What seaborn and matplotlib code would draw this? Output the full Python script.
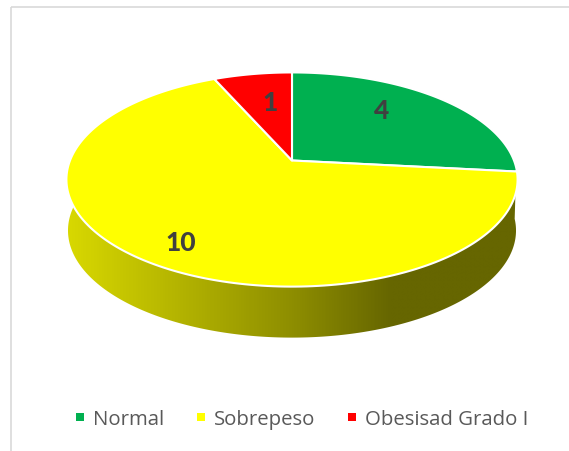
import numpy as np
import matplotlib
matplotlib.use("Agg")
import matplotlib.pyplot as plt
from matplotlib.lines import Line2D
from matplotlib.patches import Polygon, Rectangle
import seaborn as sns

categories = ["Normal", "Sobrepeso", "Obesisad Grado I"]
values = [4, 10, 1]
slice_colors = ["#00B050", "#FFFF00", "#FF0000"]
wall_stops = ["#D8D800", "#8E8E00", "#666600", "#666600"]

sns.set_theme(style="white")
plt.rcParams["font.family"] = ["Open Sans", "DejaVu Sans"]

fig = plt.figure(figsize=(5.69, 4.52), dpi=100)
ax = fig.add_axes([0, 0, 1, 1])

CX, CY, RX, PERSP, PY = 292.0, 161.5, 222.0, 0.1776, -75.03
DEPTH, BOTTOM_SCALE = 51.0, 0.993


def project(theta, r=1.0, drop=0.0, scale=1.0):
    x, y = r * np.sin(theta), r * np.cos(theta)
    w = 1 + PERSP * y
    return CX + scale * RX * x / w, (CY + PY * y) / w + drop


# Side wall, drawn as a gradient clipped to the visible rim
th = np.radians(np.linspace(94, 272, 240))
tx, ty = project(th)
bx, by = project(th, drop=DEPTH, scale=BOTTOM_SCALE)
outline = np.column_stack([np.r_[tx, bx[::-1]], np.r_[ty, by[::-1]]])
xs = np.linspace(0, 1, 500)
grad = np.interp(xs, [0, 0.5, 0.72, 1], [0, 1 / 3, 2 / 3, 1])[None, :]
cmap = sns.blend_palette(wall_stops, as_cmap=True)
im = ax.imshow(grad, cmap=cmap, vmin=0, vmax=1, extent=(67, 517, 345, 170),
               aspect="auto", interpolation="bilinear", zorder=1)
im.set_clip_path(Polygon(outline, closed=True, transform=ax.transData))

# Top face, slices taken from the values
bounds = np.cumsum([0] + values) / sum(values) * 2 * np.pi
palette = sns.color_palette(slice_colors)
for a0, a1, col in zip(bounds[:-1], bounds[1:], palette):
    t = np.linspace(a0, a1, 200)
    px, py = project(t)
    ax.fill(np.r_[CX, px], np.r_[CY, py], facecolor=col, edgecolor="white",
            linewidth=1.5, joinstyle="round", zorder=2)

# Value labels
label_xy = [(382, 111), (181, 243), (270, 103)]
for (lx, ly), v in zip(label_xy, values):
    ax.text(lx, ly, str(v), ha="center", va="center", family="Lato",
            fontweight=900, fontsize=19, color="#404040", zorder=3)

# Chart frame
ax.add_patch(Rectangle((11, 8), 570, 460, fill=False, edgecolor="#D9D9D9",
                       linewidth=1.2, zorder=0))

ax.set_xlim(0, 569)
ax.set_ylim(452, 0)
ax.axis("off")

handles = [Line2D([], [], linestyle="none", marker="s", markersize=5.8,
                  markerfacecolor=c, markeredgewidth=0) for c in palette]
leg = ax.legend(handles, categories, ncol=3, frameon=False, fontsize=14.7,
                labelcolor="#595959", loc="center", bbox_to_anchor=(302, 420),
                bbox_transform=ax.transData, handlelength=0.39, handleheight=0.7,
                handletextpad=0.44, columnspacing=1.6, borderpad=0, borderaxespad=0,
                numpoints=1)

fig.savefig("out.png", dpi=100)
